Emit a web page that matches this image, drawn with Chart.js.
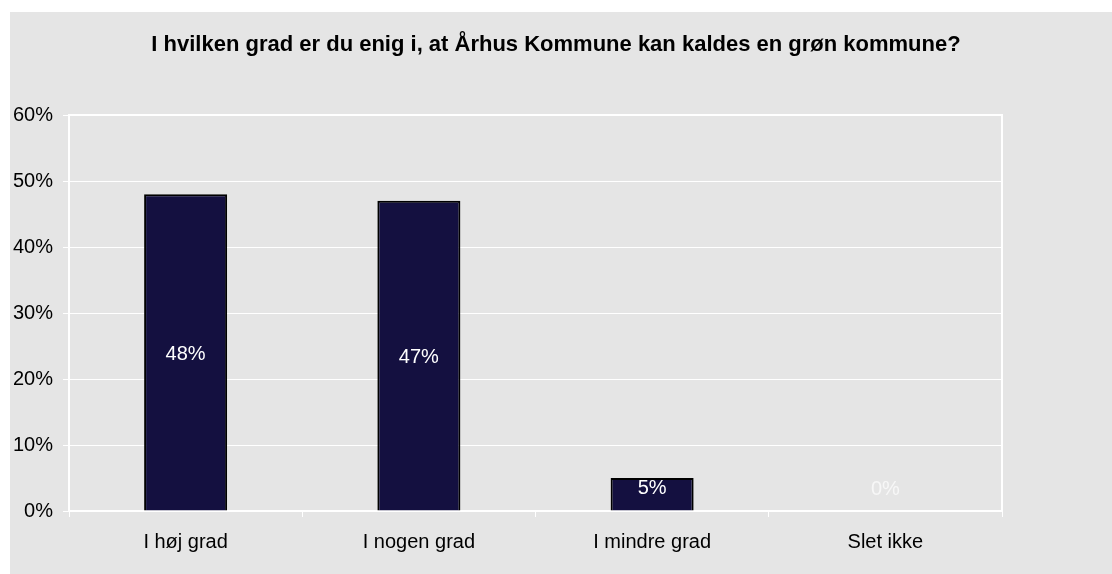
<!DOCTYPE html>
<html>
<head>
<meta charset="utf-8">
<style>
  html, body { margin: 0; padding: 0; background: #ffffff; }
  #wrap { width: 1112px; height: 574px; }
</style>
<script src="https://cdn.jsdelivr.net/npm/chart.js@4/dist/chart.umd.min.js"></script>
</head>
<body>
<div id="wrap"><canvas id="chart" width="1112" height="574"></canvas></div>
<script>
const titleText = 'I hvilken grad er du enig i, at Århus Kommune kan kaldes en grøn kommune?';
const categories = ['I høj grad', 'I nogen grad', 'I mindre grad', 'Slet ikke'];
const shares = [48, 47, 5, 0];
const yTicks = [0, 10, 20, 30, 40, 50, 60];

const FONT = 'Arial, "Liberation Sans", sans-serif';

// gray frame, centred title, and the white top/right border of the plot
const frame = {
  id: 'frame',
  beforeDraw(chart) {
    const ctx = chart.ctx;
    ctx.save();
    ctx.fillStyle = '#e5e5e5';
    ctx.fillRect(10, 12, chart.width - 10, chart.height - 12);
    ctx.fillStyle = '#000000';
    ctx.font = 'bold 22px ' + FONT;
    ctx.textAlign = 'center';
    ctx.textBaseline = 'middle';
    ctx.fillText(titleText, 556, 45);
    ctx.restore();
  },
  afterDraw(chart) {
    const { left, top, right, bottom } = chart.chartArea;
    const ctx = chart.ctx;
    ctx.save();
    ctx.strokeStyle = '#ffffff';
    ctx.lineWidth = 2;
    ctx.beginPath();
    ctx.moveTo(left, top);
    ctx.lineTo(right, top);
    ctx.lineTo(right, bottom);
    ctx.stroke();
    ctx.restore();
  }
};

// value labels inside the bars
const barLabels = {
  id: 'barLabels',
  afterDatasetsDraw(chart) {
    const ctx = chart.ctx;
    const meta = chart.getDatasetMeta(0);
    ctx.save();
    ctx.font = '20px ' + FONT;
    ctx.textAlign = 'center';
    ctx.textBaseline = 'middle';
    meta.data.forEach((bar, i) => {
      const v = shares[i];
      const y = Math.min((bar.y + bar.base) / 2 + 2, bar.base - 22);
      ctx.fillStyle = v === 0 ? '#f7f7f7' : '#ffffff';
      ctx.fillText(v + '%', bar.x, y);
    });
    ctx.restore();
  }
};

new Chart(document.getElementById('chart'), {
  type: 'bar',
  data: {
    labels: categories,
    datasets: [{
      data: shares,
      backgroundColor: '#141040',
      borderColor: '#000000',
      borderWidth: 2,
      barPercentage: 0.356,
      categoryPercentage: 1
    }]
  },
  options: {
    responsive: false,
    animation: false,
    layout: { padding: { left: 0, right: 110, top: 115, bottom: 0 } },
    plugins: {
      legend: { display: false },
      tooltip: { enabled: false },
      title: { display: false }
    },
    scales: {
      x: {
        grid: {
          offset: true,
          drawOnChartArea: false,
          drawTicks: true,
          tickLength: 6,
          color: '#ffffff'
        },
        border: { color: '#ffffff', width: 2 },
        ticks: {
          color: '#000000',
          font: { family: FONT, size: 20 },
          padding: 13,
          maxRotation: 0
        },
        afterFit(scale) { scale.height = 63; }
      },
      y: {
        min: 0,
        max: 60,
        afterBuildTicks(scale) { scale.ticks = yTicks.map(v => ({ value: v })); },
        grid: {
          color: '#ffffff',
          lineWidth: 1,
          drawTicks: true,
          tickLength: 6
        },
        border: { color: '#ffffff', width: 2 },
        ticks: {
          color: '#000000',
          font: { family: FONT, size: 20 },
          padding: 10,
          callback: v => v + '%'
        },
        afterFit(scale) { scale.width = 69; }
      }
    }
  },
  plugins: [frame, barLabels]
});
</script>
</body>
</html>
